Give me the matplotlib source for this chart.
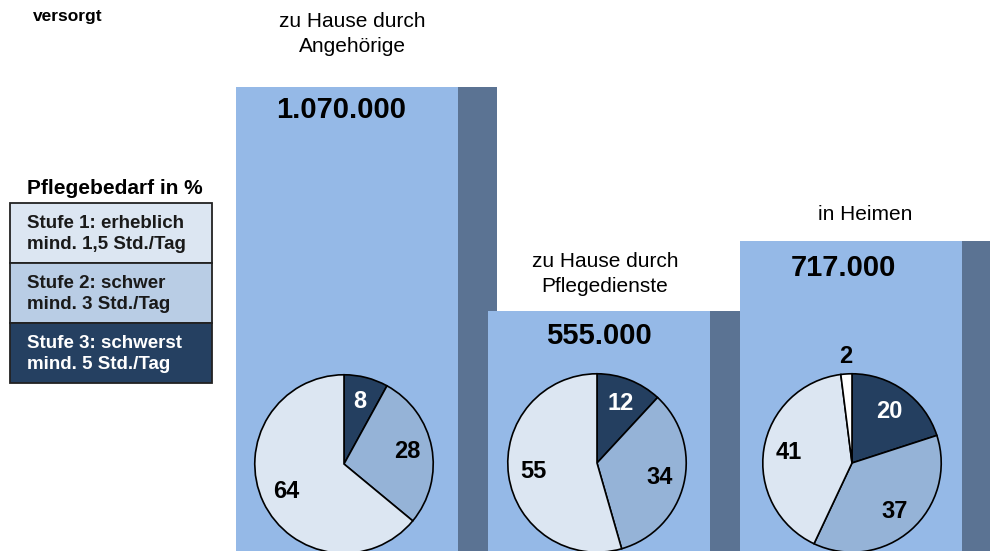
import matplotlib
matplotlib.use("Agg")
import matplotlib.pyplot as plt
from matplotlib.patches import Rectangle
import numpy as np

plt.rcParams['font.family'] = ['Liberation Sans', 'DejaVu Sans']

# data
categories = ["zu Hause durch\nAngehörige", "zu Hause durch\nPflegedienste", "in Heimen"]
totals = [1070000, 555000, 717000]
total_labels = ["1.070.000", "555.000", "717.000"]
# shares per group, clockwise from top: Stufe 3, Stufe 2, Stufe 1, (ohne Zuordnung)
shares = [
    [8, 28, 64],
    [12, 34, 55],
    [20, 37, 41, 2],
]
legend_labels = ["Stufe 1: erheblich\nmind. 1,5 Std./Tag",
                 "Stufe 2: schwer\nmind. 3 Std./Tag",
                 "Stufe 3: schwerst\nmind. 5 Std./Tag"]

# styles
W, H = 990, 551
front_col = "#95B9E7"
side_col = "#5B7393"
pie_cols = ["#243F60", "#95B3D7", "#DCE6F2", "#FFFFFF"]
pie_txt = ["white", "black", "black", "black"]
leg_cols = ["#DCE6F2", "#B9CDE5", "#254061"]
leg_txt = ["#1a1a1a", "#1a1a1a", "white"]

fig = plt.figure(figsize=(W / 100, H / 100), dpi=100)

# bars (value axis: baseline 2 px below the image bottom)
ax = fig.add_axes([0, 0, 1, 1])
px_per_unit = 466 / 1070000
ax.set_xlim(0, W)
ax.set_ylim(2 / px_per_unit, (H + 2) / px_per_unit)
ax.axis("off")
centers = [347, 598.5, 850.5]
front_w, side_w = 222, 39
for i, (c, v) in enumerate(zip(centers, totals)):
    ax.bar(c + front_w / 2 + side_w / 2, v, width=side_w, color=side_col,
           zorder=2 * i + 1, linewidth=0)
    ax.bar(c, v, width=front_w, color=front_col, zorder=2 * i + 2, linewidth=0)

# overlay in pixel coordinates for texts and legend
ov = fig.add_axes([0, 0, 1, 1])
ov.set_xlim(0, W)
ov.set_ylim(H, 0)
ov.axis("off")
ov.patch.set_alpha(0)

ov.text(33, 16, "versorgt", fontsize=12.5, fontweight="bold", va="center", ha="left")

cat_pos = [(352, 34), (605, 274), (865, 214)]
for (x, y), lab in zip(cat_pos, categories):
    ov.text(x, y, lab, fontsize=15, ha="center", va="center", linespacing=1.4)

tot_pos = [(341, 110), (599, 336), (843, 268)]
for (x, y), lab in zip(tot_pos, total_labels):
    ov.text(x, y, lab, fontsize=21, fontweight="bold", ha="center", va="center")

# legend
ov.text(27, 188, "Pflegebedarf in %", fontsize=15, fontweight="bold", ha="left", va="center")
box_tops = [203, 263, 323]
box_h = 60
for top, lab, fc, tc in zip(box_tops, legend_labels, leg_cols, leg_txt):
    ov.add_patch(Rectangle((10, top), 202, box_h, facecolor=fc, edgecolor="#222222", lw=1.3))
    ov.text(27, top + box_h / 2 + 1, lab, fontsize=13.5, fontweight="bold", color=tc,
            ha="left", va="center", linespacing=1.3)

# pies
pie_centers = [(344, 464), (597, 463), (852, 463)]
r = 91
for (cx, cy), vals in zip(pie_centers, shares):
    pax = fig.add_axes([(cx - r) / W, (H - cy - r) / H, 2 * r / W, 2 * r / H])
    pax.set_zorder(5)
    wedges, _ = pax.pie(vals, colors=pie_cols[:len(vals)], startangle=90, counterclock=False,
                        wedgeprops=dict(edgecolor="black", linewidth=1.2))
    pax.set_xlim(-1.02, 1.02)
    pax.set_ylim(-1.02, 1.02)
    pax.axis("off")
    for k, (w, v) in enumerate(zip(wedges, vals)):
        ang = np.deg2rad((w.theta1 + w.theta2) / 2)
        d = 0.72 if v >= 5 else 1.2
        pax.text(d * np.cos(ang), d * np.sin(ang), str(v), fontsize=17, fontweight="bold",
                 color=pie_txt[k] if v >= 5 else "black", ha="center", va="center", clip_on=False)

fig.savefig("out.png", dpi=100)
